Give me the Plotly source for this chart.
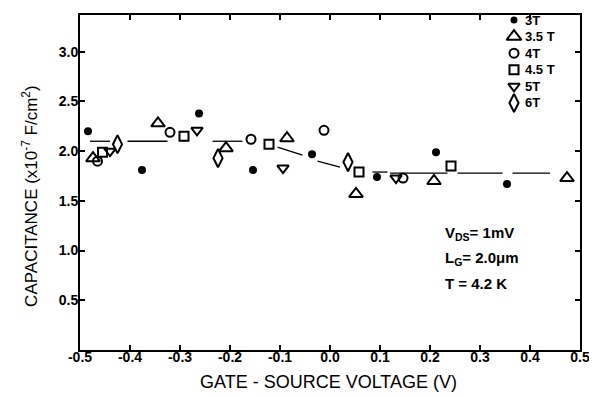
import plotly.graph_objects as go

# ---- data ----
x_3T = [-0.484, -0.376, -0.262, -0.154, -0.036, 0.094, 0.212, 0.354]
y_3T = [2.20, 1.81, 2.38, 1.81, 1.97, 1.74, 1.99, 1.67]

x_35T = [-0.474, -0.344, -0.208, -0.086, 0.052, 0.208, 0.474]
y_35T = [1.93, 2.28, 2.03, 2.13, 1.57, 1.70, 1.73]

x_4T = [-0.465, -0.320, -0.158, -0.012, 0.146]
y_4T = [1.90, 2.19, 2.12, 2.21, 1.73]

x_45T = [-0.455, -0.292, -0.122, 0.058, 0.242]
y_45T = [1.99, 2.15, 2.07, 1.79, 1.85]

x_5T = [-0.440, -0.266, -0.094, 0.132]
y_5T = [2.00, 2.21, 1.83, 1.73]

x_6T = [-0.425, -0.224, 0.036]
y_6T = [2.07, 1.93, 1.89]

# hand-drawn guide line (broken where it passes markers)
guide_x = [-0.48, -0.44, None, -0.405, -0.325, None, -0.235, -0.175, None,
           -0.105, -0.055, None, -0.025, 0.02, None, 0.085, 0.115, None,
           0.12, 0.235, None, 0.255, 0.345, None, 0.365, 0.44]
guide_y = [2.10, 2.10, None, 2.10, 2.10, None, 2.10, 2.10, None,
           2.04, 1.96, None, 1.90, 1.84, None, 1.79, 1.79, None,
           1.78, 1.78, None, 1.78, 1.78, None, 1.78, 1.78]

series_names = ["3T", "3.5 T", "4T", "4.5 T", "5T", "6T"]

x_ticks = [-0.5, -0.4, -0.3, -0.2, -0.1, 0.0, 0.1, 0.2, 0.3, 0.4, 0.5]
x_ticklabels = ["-0.5", "-0.4", "-0.3", "-0.2", "-0.1", "0.0", "0.1", "0.2", "0.3", "0.4", "0.5"]
y_ticks = [0.5, 1.0, 1.5, 2.0, 2.5, 3.0]
y_ticklabels = ["0.5", "1.0", "1.5", "2.0", "2.5", "3.0"]

FONT = "Liberation Sans"
BLACK = "black"

fig = go.Figure()

fig.add_trace(go.Scatter(x=guide_x, y=guide_y, mode="lines",
                         line=dict(color=BLACK, width=1.3),
                         showlegend=False, hoverinfo="skip"))

styles = [("circle", 6, 5), ("triangle-up-open", 12, 13), ("circle-open", 9, 9),
          ("square-open", 9, 9), ("triangle-down-open", 10, 10),
          ("diamond-tall-open", 13, 13)]
data = [(x_3T, y_3T), (x_35T, y_35T), (x_4T, y_4T), (x_45T, y_45T),
        (x_5T, y_5T), (x_6T, y_6T)]

# legend rows (paper fractions of the plotting area)
leg_x_marker = 0.868
leg_x_text = 0.886
leg_y0 = 0.985
leg_dy = 0.0495

for i, (name, (xs, ys), (sym, sz, lsz)) in enumerate(zip(series_names, data, styles)):
    fig.add_trace(go.Scatter(
        x=xs, y=ys, mode="markers", name=name, showlegend=False,
        marker=dict(symbol=sym, size=sz, color=BLACK,
                    line=dict(color=BLACK, width=2)),
    ))
    ly = leg_y0 - i * leg_dy
    # legend key drawn on an overlay axis spanning [0,1]
    fig.add_trace(go.Scatter(
        x=[leg_x_marker], y=[ly], mode="markers", xaxis="x2", yaxis="y2",
        showlegend=False, hoverinfo="skip",
        marker=dict(symbol=sym, size=lsz, color=BLACK,
                    line=dict(color=BLACK, width=2)),
    ))
    fig.add_annotation(xref="paper", yref="paper", x=leg_x_text, y=ly,
                       text=name, showarrow=False, xanchor="left",
                       yanchor="middle",
                       font=dict(family=FONT, size=13, weight="bold"))

# the page body adds an 8px offset, so the figure is 8px smaller
fig.update_layout(
    width=589, height=390,
    margin=dict(l=72, r=17, t=5, b=48),
    paper_bgcolor="white", plot_bgcolor="white",
    font=dict(family=FONT, color=BLACK),
    showlegend=False,
    xaxis=dict(range=[-0.5, 0.5], tickvals=x_ticks, ticktext=x_ticklabels,
               ticks="inside", ticklen=5, tickwidth=1.5, tickcolor=BLACK,
               showline=True, linecolor=BLACK, linewidth=2, mirror="ticks",
               showgrid=False, zeroline=False, ticklabelstandoff=-7,
               tickfont=dict(family=FONT, size=14, weight="bold")),
    yaxis=dict(range=[0, 3.37], tickvals=y_ticks, ticktext=y_ticklabels,
               ticks="inside", ticklen=5, tickwidth=1.5, tickcolor=BLACK,
               showline=True, linecolor=BLACK, linewidth=2, mirror="ticks",
               showgrid=False, zeroline=False, ticklabelstandoff=-3,
               tickfont=dict(family=FONT, size=14, weight="bold")),
    xaxis2=dict(range=[0, 1], overlaying="x", visible=False, fixedrange=True),
    yaxis2=dict(range=[0, 1], overlaying="y", visible=False, fixedrange=True),
)

fig.add_annotation(xref="paper", yref="paper", x=0.496, y=-0.095,
                   text="GATE - SOURCE VOLTAGE (V)", showarrow=False,
                   xanchor="center", yanchor="middle",
                   font=dict(family=FONT, size=18))
fig.add_annotation(xref="paper", yref="paper", x=-0.1, y=0.46,
                   text="CAPACITANCE (x10<sup>-7</sup> F/cm<sup>2</sup>)",
                   showarrow=False, textangle=-90,
                   xanchor="center", yanchor="middle",
                   font=dict(family=FONT, size=17))

for txt, yy in [("V<sub>DS</sub>= 1mV", 1.17), ("L<sub>G</sub>= 2.0\u03bcm", 0.92), ("T = 4.2 K", 0.67)]:
    fig.add_annotation(xref="x", yref="y", x=0.226, y=yy, text=txt,
                       showarrow=False, xanchor="left", yanchor="middle",
                       font=dict(family=FONT, size=15, weight="bold"))

fig.write_html("out.html")
